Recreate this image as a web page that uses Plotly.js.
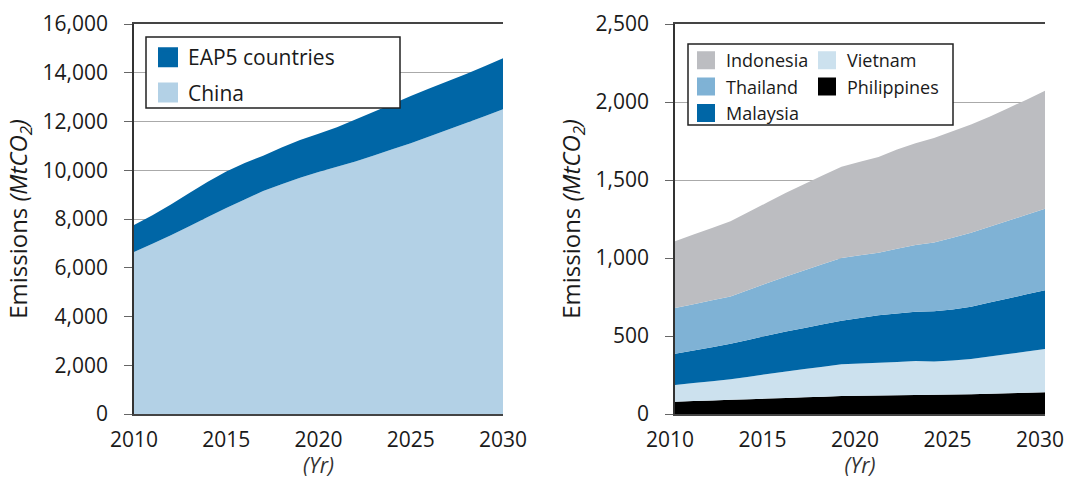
<!DOCTYPE html>
<html><head><meta charset="utf-8">
<script src="https://cdn.plot.ly/plotly-3.0.1.min.js"></script>
<style>html,body{margin:0;padding:0;background:#fff;} #chart{width:1066px;height:479px;}</style>
</head><body><div id="chart"></div>
<script>
// ---- data ----
const years = [2010,2011,2012,2013,2014,2015,2016,2017,2018,2019,2020,2021,2022,2023,2024,2025,2026,2027,2028,2029,2030];
const xTicks = [2010,2015,2020,2025,2030];
const leftYTicks = [0,2000,4000,6000,8000,10000,12000,14000,16000];
const rightYTicks = [0,500,1000,1500,2000,2500];

const china = [6650,6980,7330,7700,8080,8450,8800,9150,9430,9690,9930,10140,10360,10610,10860,11110,11380,11660,11940,12220,12500];
const eap5  = [1100,1170,1270,1370,1450,1500,1500,1450,1500,1550,1570,1620,1720,1790,1860,1940,1970,1990,2010,2050,2100];

const philippines = [79,83,87,91,95,99,103,107,111,115,117,118,120,121,123,125,127,130,133,136,139];
const vietnam     = [107,115,123,132,144,157,169,181,192,204,207,211,214,219,214,218,225,238,251,264,277];
const malaysia    = [200,209,218,227,237,247,257,264,272,279,291,304,311,316,321,327,336,346,356,367,377];
const thailand    = [293,297,301,304,321,337,353,369,386,402,402,401,415,427,442,460,474,486,498,510,523];
const indonesia   = [428,446,463,482,499,517,536,553,569,585,600,614,635,652,670,682,693,705,722,738,756];

const C = {
  china:'#b3d1e6', eap5:'#0066a6',
  indonesia:'#bcbdc1', thailand:'#7fb2d5', malaysia:'#0066a6', vietnam:'#cce1ee', philippines:'#000000'
};

function area(name, ys, color, xa, ya, grp){
  return {type:'scatter', name:name, x:years, y:ys, stackgroup:grp, mode:'none',
          fillcolor:color, line:{width:0}, showlegend:false, xaxis:xa, yaxis:ya};
}
function legendEntry(name, color, legendId, xa, ya, size){
  return {type:'scatter', name:name, x:[null], y:[null], mode:'markers', xaxis:xa, yaxis:ya,
          legend:legendId, legendgroup:name, showlegend:true,
          marker:{symbol:'square', size:size, color:color, line:{color:color, width:4}}};
}

const traces = [
  area('China', china, C.china, 'x', 'y', 'left'),
  area('EAP5 countries', eap5, C.eap5, 'x', 'y', 'left'),
  area('Philippines', philippines, C.philippines, 'x2', 'y2', 'right'),
  area('Vietnam', vietnam, C.vietnam, 'x2', 'y2', 'right'),
  area('Malaysia', malaysia, C.malaysia, 'x2', 'y2', 'right'),
  area('Thailand', thailand, C.thailand, 'x2', 'y2', 'right'),
  area('Indonesia', indonesia, C.indonesia, 'x2', 'y2', 'right'),
  legendEntry('EAP5 countries', C.eap5, 'legend', 'x', 'y', 16),
  legendEntry('China', C.china, 'legend', 'x', 'y', 16),
  legendEntry('Indonesia', C.indonesia, 'legend2', 'x2', 'y2', 14),
  legendEntry('Thailand', C.thailand, 'legend2', 'x2', 'y2', 14),
  legendEntry('Malaysia', C.malaysia, 'legend2', 'x2', 'y2', 14),
  legendEntry('Vietnam', C.vietnam, 'legend3', 'x2', 'y2', 14),
  legendEntry('Philippines', C.philippines, 'legend3', 'x2', 'y2', 14)
];

const W = 1066;
const xBase = {range:[2010,2030], tickvals:xTicks, showgrid:false, zeroline:false, showline:true,
  linecolor:'#444', linewidth:1.5, mirror:true, ticks:'', tickfont:{size:21}, ticklabelstandoff:6,
  ticklabeloverflow:'allow',
  title:{text:'<i>(Yr)</i>', font:{size:21, color:'#333'}, standoff:6}, fixedrange:true};
const yBase = {tickformat:',d', showgrid:true, gridcolor:'#aaaaaa', gridwidth:1, zeroline:false,
  showline:true, linecolor:'#333', linewidth:1.5, ticks:'outside', ticklen:8, tickcolor:'#666', tickwidth:1,
  tickfont:{size:21}, ticklabelstandoff:12,
  title:{text:'Emissions <i>(MtCO<sub>2</sub>)</i>', font:{size:24}, standoff:8}, fixedrange:true};

const legBase = {orientation:'v', xanchor:'left', yanchor:'top', bgcolor:'rgba(0,0,0,0)', borderwidth:0,
  itemclick:false, itemdoubleclick:false};

const layout = {
  width:W, height:479, margin:{l:0, r:0, t:24, b:65},
  paper_bgcolor:'#fff', plot_bgcolor:'#fff',
  font:{family:'"Open Sans", "Noto Sans", sans-serif', size:21, color:'#1a1a1a'},
  xaxis:Object.assign({}, xBase, {domain:[134/W, 503/W], anchor:'y'}),
  yaxis:Object.assign({}, yBase, {domain:[0,1], range:[0,16000], tickvals:leftYTicks, anchor:'x'}),
  xaxis2:Object.assign({}, xBase, {domain:[675/W, 1045/W], anchor:'y2', ticklabelshift:-5}),
  yaxis2:Object.assign({}, yBase, {domain:[0,1], range:[0,2500], tickvals:rightYTicks, anchor:'x2'}),
  legend:Object.assign({}, legBase, {x:148/W, y:(414-37)/390, font:{size:21}, traceorder:'grouped', tracegroupgap:5}),
  legend2:Object.assign({}, legBase, {x:686/W, y:(414-42)/390, font:{size:18}, traceorder:'normal'}),
  legend3:Object.assign({}, legBase, {x:807/W, y:(414-42)/390, font:{size:18}, traceorder:'normal'}),
  shapes:[
    {type:'rect', xref:'paper', yref:'paper', x0:146/W, x1:400/W, y0:(414-108)/390, y1:(414-37)/390,
     fillcolor:'#fff', line:{color:'#222', width:1.5}, layer:'above'},
    {type:'rect', xref:'paper', yref:'paper', x0:688/W, x1:953/W, y0:(414-125)/390, y1:(414-44)/390,
     fillcolor:'#fff', line:{color:'#222', width:1.5}, layer:'above'}
  ],
  showlegend:true, hovermode:false
};

Plotly.newPlot('chart', traces, layout, {displayModeBar:false});
</script></body></html>
